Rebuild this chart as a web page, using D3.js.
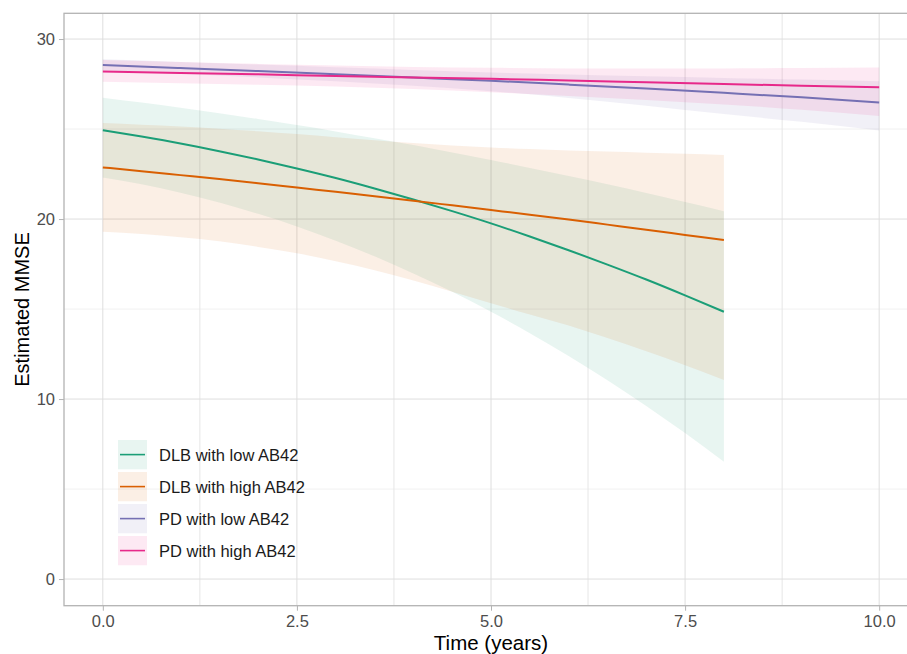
<!DOCTYPE html>
<html>
<head>
<meta charset="utf-8">
<title>Estimated MMSE over time</title>
<script src="https://d3js.org/d3.v7.min.js"></script>
<style>
    html, body { margin: 0; padding: 0; background: #fff; }
    svg { display: block; font-family: "Liberation Sans", Arial, sans-serif; }
    .tick text { fill: #4d4d4d; }
</style>
</head>
<body>
<div id="chart"></div>
<script>
// values
var timesDLB = [0, 0.5, 1, 1.5, 2, 2.5, 3, 3.5, 4, 4.5, 5, 5.5, 6, 6.5, 7, 7.5, 8];
var timesPD = [0, 1, 2, 3, 4, 5, 6, 7, 8, 9, 10];

var dlbLowFit   = [24.93, 24.58, 24.20, 23.77, 23.31, 22.81, 22.28, 21.70, 21.09, 20.44, 19.76, 19.03, 18.27, 17.47, 16.64, 15.76, 14.85];
var dlbLowUpper = [26.74, 26.47, 26.18, 25.88, 25.56, 25.22, 24.87, 24.49, 24.11, 23.70, 23.28, 22.84, 22.39, 21.93, 21.45, 20.95, 20.44];
var dlbLowLower = [22.31, 21.93, 21.46, 20.92, 20.29, 19.59, 18.80, 17.93, 16.98, 15.96, 14.85, 13.66, 12.39, 11.05, 9.62, 8.11, 6.52];

var dlbHighFit   = [22.87, 22.66, 22.44, 22.22, 21.99, 21.75, 21.51, 21.27, 21.02, 20.76, 20.50, 20.24, 19.97, 19.69, 19.41, 19.12, 18.83];
var dlbHighUpper = [25.33, 25.24, 25.14, 25.02, 24.88, 24.72, 24.55, 24.38, 24.22, 24.09, 23.98, 23.89, 23.81, 23.75, 23.69, 23.63, 23.56];
var dlbHighLower = [19.30, 19.17, 18.99, 18.77, 18.45, 18.10, 17.65, 17.15, 16.58, 15.96, 15.32, 14.70, 14.09, 13.39, 12.65, 11.88, 11.06];

var pdLowFit   = [28.56, 28.39, 28.22, 28.04, 27.86, 27.68, 27.47, 27.25, 27.01, 26.76, 26.48];
var pdLowUpper = [28.88, 28.73, 28.58, 28.43, 28.28, 28.14, 28.03, 27.93, 27.84, 27.75, 27.66];
var pdLowLower = [28.25, 28.07, 27.87, 27.65, 27.40, 27.10, 26.73, 26.30, 25.83, 25.40, 24.92];

var pdHighFit   = [28.20, 28.12, 28.04, 27.95, 27.87, 27.79, 27.70, 27.60, 27.50, 27.41, 27.32];
var pdHighUpper = [28.83, 28.72, 28.62, 28.53, 28.45, 28.40, 28.37, 28.36, 28.37, 28.39, 28.42];
var pdHighLower = [27.63, 27.55, 27.46, 27.36, 27.22, 27.05, 26.84, 26.62, 26.37, 26.07, 25.73];

var seriesNames = ["DLB with low AB42", "DLB with high AB42", "PD with low AB42", "PD with high AB42"];
var seriesColors = ["#1b9e77", "#d95f02", "#7570b3", "#e7298a"];

var xTicks = [0, 2.5, 5, 7.5, 10];
var xMinor = [1.25, 3.75, 6.25, 8.75];
var yTicks = [0, 10, 20, 30];
var yMinor = [5, 15, 25];

var xLabel = "Time (years)";
var yLabel = "Estimated MMSE";

// build series rows
function rows(times, fit, lo, hi) {
    return times.map(function(t, i) {
        return { t: t, fit: fit[i], lo: lo[i], hi: hi[i] };
    });
}
var series = [
    rows(timesDLB, dlbLowFit, dlbLowLower, dlbLowUpper),
    rows(timesDLB, dlbHighFit, dlbHighLower, dlbHighUpper),
    rows(timesPD, pdLowFit, pdLowLower, pdLowUpper),
    rows(timesPD, pdHighFit, pdHighLower, pdHighUpper)
];

var W = 907, H = 654;
var panel = { left: 64, right: 918, top: 13.3, bottom: 605.7 };

var x = d3.scaleLinear().domain([-0.5, 10.5]).range([panel.left, panel.right]);
var y = d3.scaleLinear().domain([-1.48, 31.43]).range([panel.bottom, panel.top]);

var svg = d3.select("#chart").append("svg")
    .attr("width", W)
    .attr("height", H);

svg.append("defs").append("clipPath").attr("id", "clip")
    .append("rect")
    .attr("x", panel.left).attr("y", panel.top)
    .attr("width", panel.right - panel.left)
    .attr("height", panel.bottom - panel.top);

/* grid */
var grid = svg.append("g");
grid.selectAll(".hminor").data(yMinor).enter().append("line")
    .attr("x1", panel.left).attr("x2", panel.right)
    .attr("y1", function(d) { return y(d); }).attr("y2", function(d) { return y(d); })
    .attr("stroke", "#f1f1f1").attr("stroke-width", 1);
grid.selectAll(".vminor").data(xMinor).enter().append("line")
    .attr("y1", panel.top).attr("y2", panel.bottom)
    .attr("x1", function(d) { return x(d); }).attr("x2", function(d) { return x(d); })
    .attr("stroke", "#e6e6e6").attr("stroke-width", 1);
grid.selectAll(".hmajor").data(yTicks).enter().append("line")
    .attr("x1", panel.left).attr("x2", panel.right)
    .attr("y1", function(d) { return y(d); }).attr("y2", function(d) { return y(d); })
    .attr("stroke", "#dedede").attr("stroke-width", 1);
grid.selectAll(".vmajor").data(xTicks).enter().append("line")
    .attr("y1", panel.top).attr("y2", panel.bottom)
    .attr("x1", function(d) { return x(d); }).attr("x2", function(d) { return x(d); })
    .attr("stroke", "#dedede").attr("stroke-width", 1);

/* ribbons + lines */
var plot = svg.append("g").attr("clip-path", "url(#clip)");

var area = d3.area()
    .curve(d3.curveMonotoneX)
    .x(function(d) { return x(d.t); })
    .y0(function(d) { return y(d.lo); })
    .y1(function(d) { return y(d.hi); });

var line = d3.line()
    .curve(d3.curveMonotoneX)
    .x(function(d) { return x(d.t); })
    .y(function(d) { return y(d.fit); });

plot.selectAll(".ribbon").data(series).enter().append("path")
    .attr("d", area)
    .attr("fill", function(d, i) { return seriesColors[i]; })
    .attr("fill-opacity", 0.1);

plot.selectAll(".fit").data(series).enter().append("path")
    .attr("d", line)
    .attr("fill", "none")
    .attr("stroke", function(d, i) { return seriesColors[i]; })
    .attr("stroke-width", 2);

/* panel border */
svg.append("rect")
    .attr("x", panel.left).attr("y", panel.top)
    .attr("width", panel.right - panel.left)
    .attr("height", panel.bottom - panel.top)
    .attr("fill", "none")
    .attr("stroke", "#b3b3b3")
    .attr("stroke-width", 1.3);

/* axes */
var xAxis = svg.append("g")
    .attr("transform", "translate(0," + panel.bottom + ")")
    .call(d3.axisBottom(x).tickValues(xTicks).tickFormat(d3.format(".1f")).tickSize(5).tickPadding(5));
var yAxis = svg.append("g")
    .attr("transform", "translate(" + panel.left + ",0)")
    .call(d3.axisLeft(y).tickValues(yTicks).tickFormat(d3.format("d")).tickSize(5).tickPadding(4));

[xAxis, yAxis].forEach(function(a) {
    a.select(".domain").remove();
    a.selectAll(".tick line").attr("stroke", "#b3b3b3").attr("stroke-width", 1);
    a.selectAll(".tick text").attr("font-size", 16.5).attr("font-family", "Liberation Sans, Arial, sans-serif");
});

svg.append("text")
    .attr("x", x(5))
    .attr("y", 650)
    .attr("text-anchor", "middle")
    .attr("font-size", 20.5)
    .attr("fill", "#000")
    .text(xLabel);

svg.append("text")
    .attr("transform", "translate(28.5," + ((panel.top + panel.bottom) / 2) + ") rotate(-90)")
    .attr("text-anchor", "middle")
    .attr("font-size", 20)
    .attr("fill", "#000")
    .text(yLabel);

/* legend */
var legend = svg.append("g").attr("transform", "translate(118,440)");
var item = legend.selectAll(".item").data(seriesNames).enter().append("g")
    .attr("transform", function(d, i) { return "translate(0," + (i * 32) + ")"; });
item.append("rect")
    .attr("width", 29).attr("height", 29.3)
    .attr("fill", function(d, i) { return seriesColors[i]; })
    .attr("fill-opacity", 0.1);
item.append("line")
    .attr("x1", 2).attr("x2", 27)
    .attr("y1", 14.6).attr("y2", 14.6)
    .attr("stroke", function(d, i) { return seriesColors[i]; })
    .attr("stroke-width", 1.6);
item.append("text")
    .attr("x", 41).attr("y", 14.6)
    .attr("dy", "0.36em")
    .attr("font-size", 16.5)
    .attr("fill", "#1a1a1a")
    .text(function(d) { return d; });
</script>
</body>
</html>
